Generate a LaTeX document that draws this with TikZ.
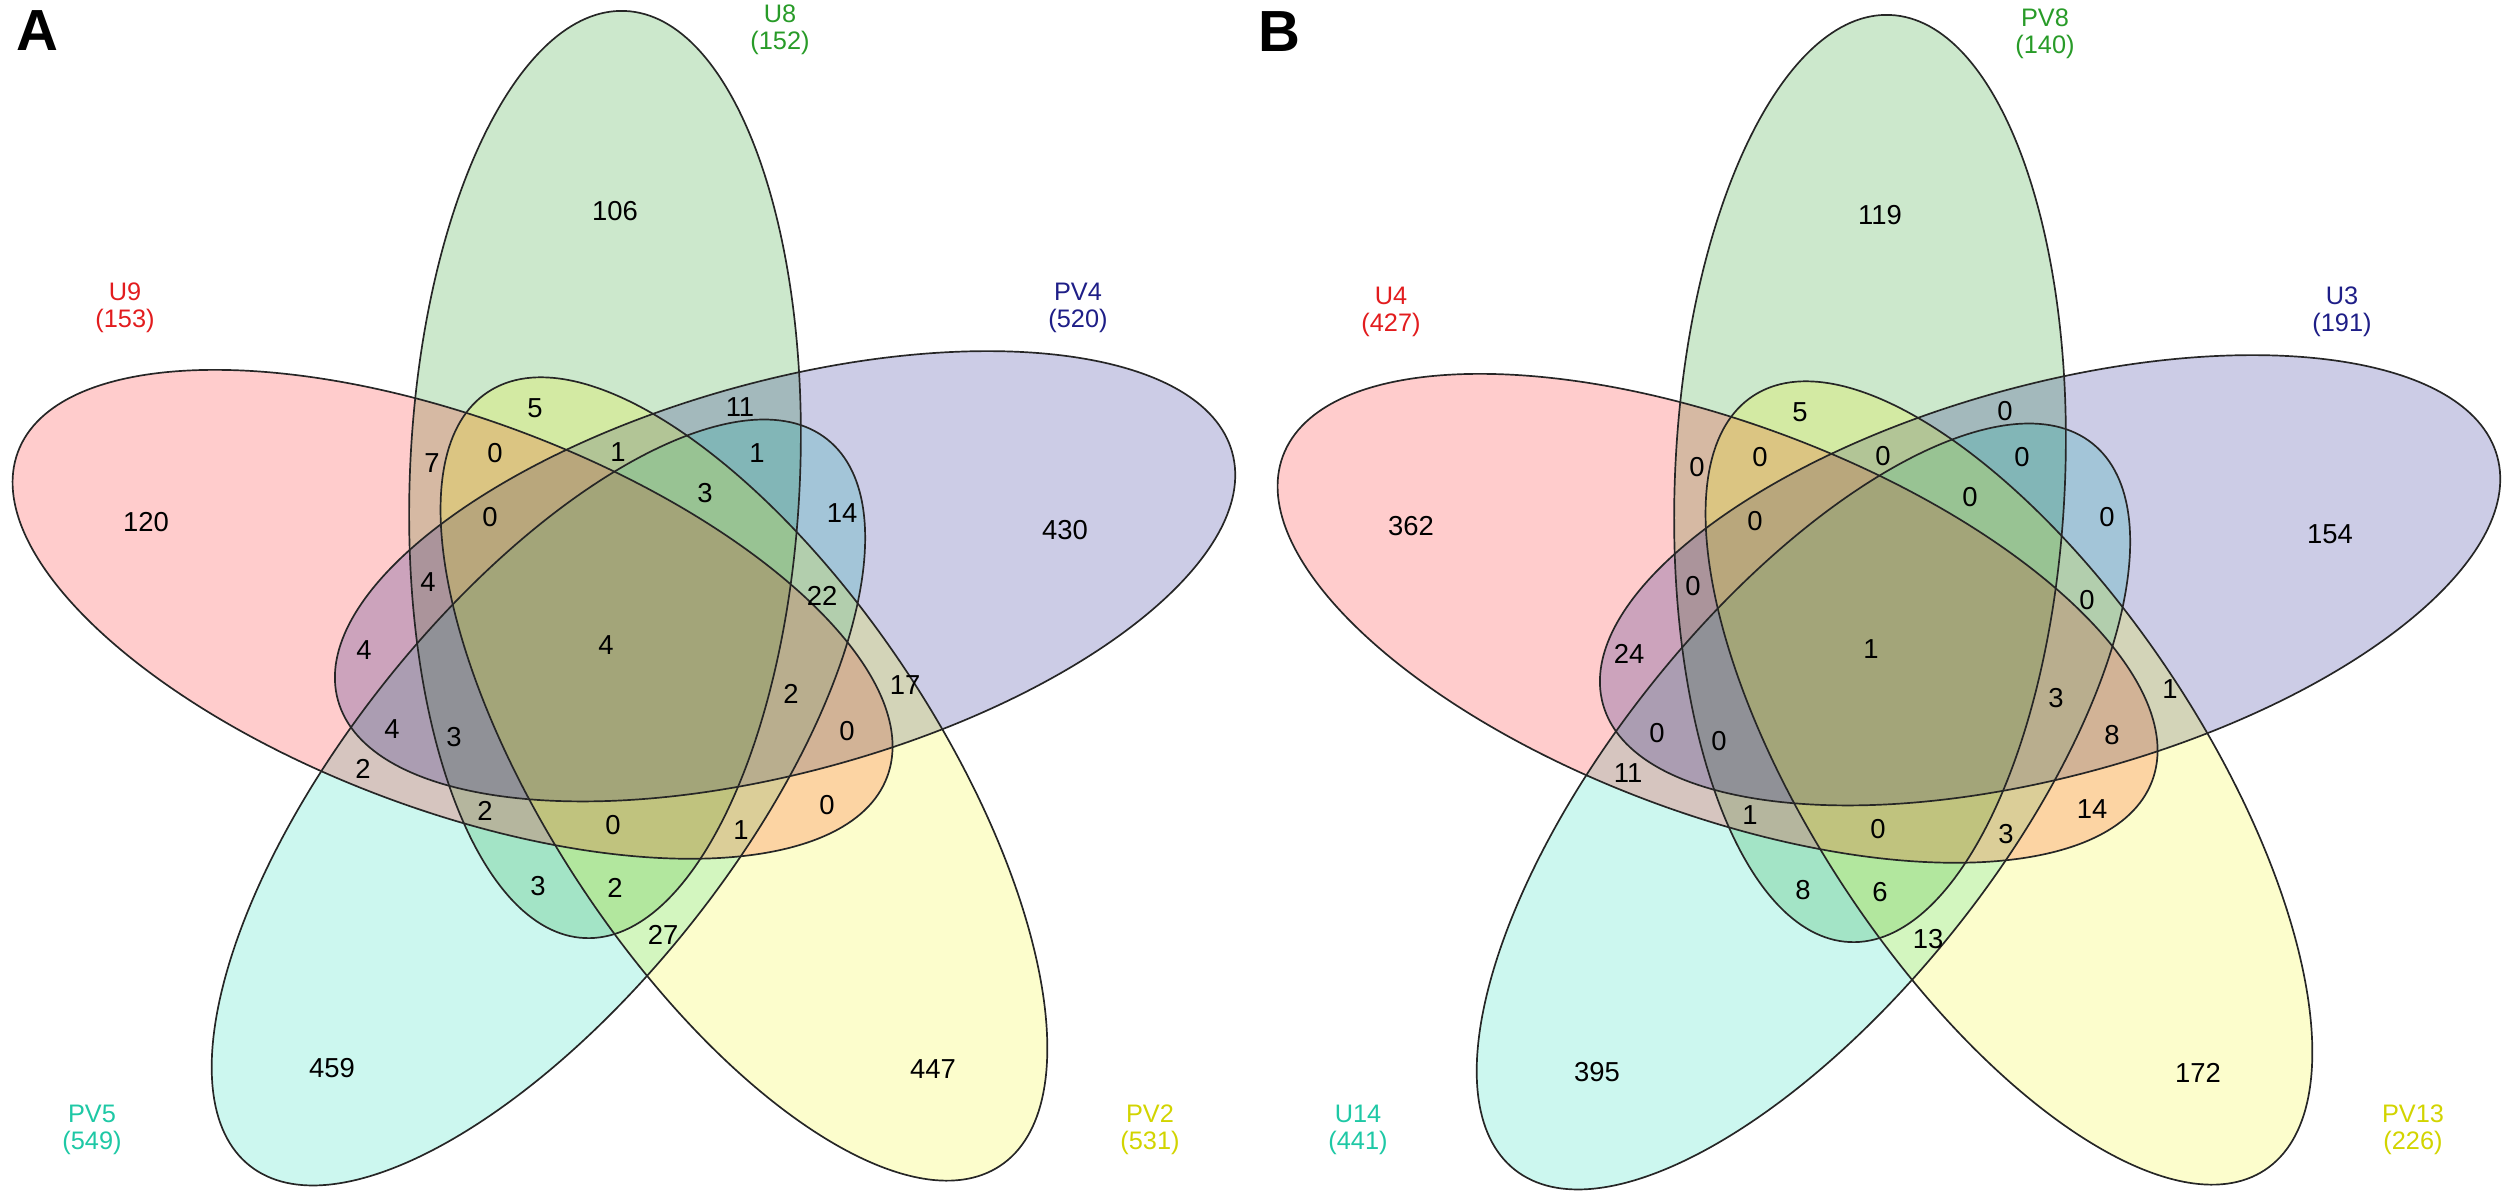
\documentclass[tikz,border=0pt]{standalone}
\usepackage{fontspec}
\setmainfont{Liberation Sans}
\definecolor{setred}{RGB}{255,0,0}
\definecolor{setgreen}{RGB}{0,139,0}
\definecolor{setblue}{RGB}{0,0,128}
\definecolor{setcyan}{RGB}{0,215,175}
\definecolor{setyellow}{RGB}{240,245,0}
\definecolor{labred}{RGB}{226,28,30}
\definecolor{labgreen}{RGB}{40,155,40}
\definecolor{labblue}{RGB}{30,30,135}
\definecolor{labcyan}{RGB}{30,200,165}
\definecolor{labyellow}{RGB}{210,212,0}
\tikzset{every picture/.style={line width=0.48pt}}
\begin{document}
\begin{tikzpicture}[x=0.01cm,y=-0.01cm,
num/.style={inner sep=0pt, font=\fontsize{7.8}{9}\selectfont},
setlab/.style={inner sep=0pt, align=center, font=\fontsize{7.2}{7.7}\selectfont},
panel/.style={inner sep=0pt, font=\fontsize{16.5}{18}\bfseries\selectfont}]
\useasboundingbox (0,0) rectangle (2512,1193);
% five ellipses per panel, fills first, outlines on top
\foreach \dx/\dy in {0/0, 1265/4} {
\foreach \ang/\col in {0/setgreen, 144/setcyan, 72/setred, -72/setblue, -144/setyellow}
\fill[\col, fill opacity=0.2, shift={(\dx,\dy)}, rotate around={\ang:(625,649.3)}, shift={(605,474.5)}, rotate=87.5] (0,0) ellipse (464 and 195);
\foreach \ang in {72, 0, -72, -144, 144}
\draw[black!85, shift={(\dx,\dy)}, rotate around={\ang:(625,649.3)}, shift={(605,474.5)}, rotate=87.5] (0,0) ellipse (464 and 195);
}
% region counts, panel A and panel B
\foreach \x/\y/\na/\nb [count=\i] in {615/211/106/119, 146/522/120/362, 1065/530/430/154, 332/1068/459/395, 933/1069/447/172,
535/408/5/5, 740/407/11/0, 432/463/7/0, 495/453/0/0, 618/452/1/0, 757/453/1/0, 490/517/0/0, 705/493/3/0, 842/513/14/0,
428/582/4/0, 822/596/22/0, 364/650/4/24, 606/645/4/1, 791/694/2/3, 905/685/17/1, 392/729/4/0, 454/737/3/0, 847/731/0/8,
363/769/2/11, 485/811/2/1, 613/825/0/0, 741/830/1/3, 827/805/0/14, 538/886/3/8, 615/888/2/6, 663/935/27/13} {
\node[num] (a\i) at (\x,\y) {\na};
\node[num] (b\i) at (\x+1265,\y+4) {\nb};
}
% set names
\node[setlab, labred] (labU9) at (125,308) {U9\\(153)};
\node[setlab, labgreen] (labU8) at (780,30) {U8\\(152)};
\node[setlab, labblue] (labPV4) at (1078,308) {PV4\\(520)};
\node[setlab, labcyan] (labPV5) at (92,1130) {PV5\\(549)};
\node[setlab, labyellow] (labPV2) at (1150,1130) {PV2\\(531)};
\node[setlab, labred] (labU4) at (1391,312) {U4\\(427)};
\node[setlab, labgreen] (labPV8) at (2045,34) {PV8\\(140)};
\node[setlab, labblue] (labU3) at (2342,312) {U3\\(191)};
\node[setlab, labcyan] (labU14) at (1358,1130) {U14\\(441)};
\node[setlab, labyellow] (labPV13) at (2413,1130) {PV13\\(226)};
% panel letters
\node[panel] (pA) at (37,31) {A};
\node[panel] (pB) at (1279,32) {B};
\end{tikzpicture}
\end{document}
